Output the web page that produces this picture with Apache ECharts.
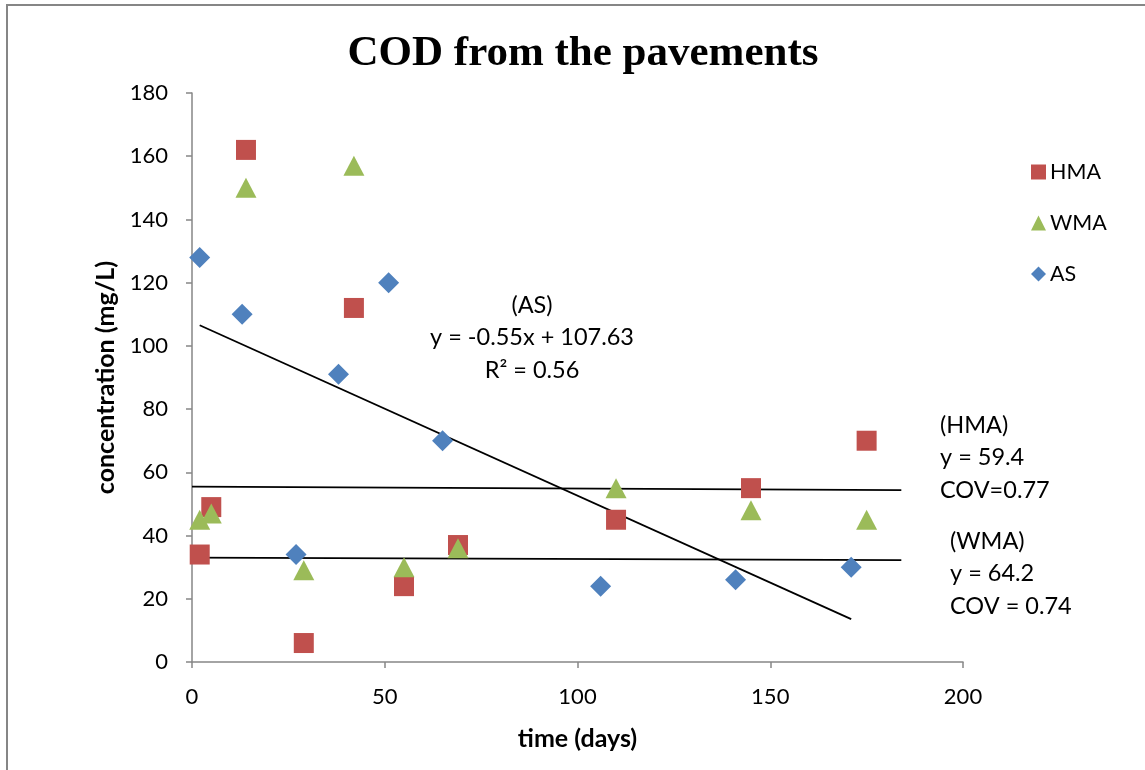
<!DOCTYPE html>
<html>
<head>
<meta charset="utf-8">
<script src="https://cdn.jsdelivr.net/npm/echarts@6/dist/echarts.min.js"></script>
<style>
  html, body { margin: 0; padding: 0; background: #fff; }
  #chart { width: 1145px; height: 770px; }
</style>
</head>
<body>
<div id="chart"></div>
<script>
// Sampling days and COD concentrations (mg/L) per pavement type
const hmaDays = [2, 5, 14, 29, 42, 55, 69, 110, 145, 175];
const hmaCod  = [34, 49, 162, 6, 112, 24, 37, 45, 55, 70];

const wmaDays = [2, 5, 14, 29, 42, 55, 69, 110, 145, 175];
const wmaCod  = [45, 47, 150, 29, 157, 30, 36, 55, 48, 45];

const asDays = [2, 13, 27, 38, 51, 65, 106, 141, 171];
const asCod  = [128, 110, 34, 91, 120, 70, 24, 26, 30];

// Fitted lines
const asSlope = -0.55;
const asIntercept = 107.63;
const asFitRange = [2, 171];
const hmaFitLine = [[0, 55.5], [184, 54.4]];
const wmaFitLine = [[0, 33.0], [184, 32.2]];

const xTicks = [0, 50, 100, 150, 200];
const yTicks = [0, 20, 40, 60, 80, 100, 120, 140, 160, 180];

const colors = { HMA: '#C0504D', WMA: '#9BBB59', AS: '#4F81BD' };
const sansFont = 'Lato, "Open Sans", sans-serif';

const zip = (xs, ys) => xs.map((x, i) => [x, ys[i]]);
const asFitLine = asFitRange.map(x => [x, asSlope * x + asIntercept]);

const chart = echarts.init(document.getElementById('chart'));

const fitSeries = (name, data) => ({
  name: name,
  type: 'line',
  data: data,
  symbol: 'none',
  silent: true,
  z: 1,
  lineStyle: { color: '#000', width: 1.8 }
});

chart.setOption({
  animation: false,
  backgroundColor: '#fff',
  title: {
    text: 'COD from the pavements',
    left: 578,
    top: 27,
    textAlign: 'center',
    textStyle: {
      fontFamily: '"Liberation Serif", "Times New Roman", serif',
      fontWeight: 'bold',
      fontSize: 43,
      color: '#000'
    }
  },
  grid: { left: 192, top: 93, right: 182, bottom: 108, containLabel: false },
  xAxis: {
    type: 'value',
    min: xTicks[0],
    max: xTicks[xTicks.length - 1],
    interval: 50,
    name: 'time (days)',
    nameLocation: 'middle',
    nameGap: 64,
    nameTextStyle: { fontFamily: sansFont, fontWeight: 'bold', fontSize: 25, color: '#000' },
    axisLine: { show: true, lineStyle: { color: '#868686', width: 1.5 } },
    axisTick: { show: true, length: 6, lineStyle: { color: '#868686', width: 1.5 } },
    axisLabel: { fontFamily: sansFont, fontSize: 22, color: '#000', margin: 24 },
    splitLine: { show: false }
  },
  yAxis: {
    type: 'value',
    min: yTicks[0],
    max: yTicks[yTicks.length - 1],
    interval: 20,
    name: 'concentration (mg/L)',
    nameLocation: 'middle',
    nameGap: 74,
    nameTextStyle: { fontFamily: sansFont, fontWeight: 'bold', fontSize: 25, color: '#000' },
    axisLine: { show: true, lineStyle: { color: '#868686', width: 1.5 } },
    axisTick: { show: true, length: 6, lineStyle: { color: '#868686', width: 1.5 } },
    axisLabel: { fontFamily: sansFont, fontSize: 22, color: '#000', margin: 24 },
    splitLine: { show: false }
  },
  legend: {
    orient: 'vertical',
    left: 1026,
    top: 156,
    itemGap: 29,
    itemWidth: 15,
    itemHeight: 15,
    data: [
      { name: 'HMA', icon: 'rect' },
      { name: 'WMA', icon: 'triangle' },
      { name: 'AS', icon: 'diamond' }
    ],
    textStyle: { fontFamily: sansFont, fontSize: 21.5, color: '#000', padding: [0, 0, 0, -1] }
  },
  series: [
    fitSeries('AS fit', asFitLine),
    fitSeries('HMA fit', hmaFitLine),
    fitSeries('WMA fit', wmaFitLine),
    {
      name: 'HMA', type: 'scatter', data: zip(hmaDays, hmaCod),
      symbol: 'rect', symbolSize: 20, z: 3,
      itemStyle: { color: colors.HMA, opacity: 1 }
    },
    {
      name: 'WMA', type: 'scatter', data: zip(wmaDays, wmaCod),
      symbol: 'triangle', symbolSize: [21, 20], z: 4,
      itemStyle: { color: colors.WMA, opacity: 1 }
    },
    {
      name: 'AS', type: 'scatter', data: zip(asDays, asCod),
      symbol: 'diamond', symbolSize: 21, z: 5,
      itemStyle: { color: colors.AS, opacity: 1 }
    }
  ],
  graphic: [
    {
      type: 'rect', silent: true, z: -1,
      shape: { x: 7, y: 5, width: 1200, height: 800 },
      style: { fill: 'none', stroke: '#868686', lineWidth: 2 }
    },
    {
      type: 'text', z: 10,
      style: {
        text: '(AS)\ny = -0.55x + 107.63\nR² = 0.56',
        x: 532, y: 289, align: 'center', verticalAlign: 'top',
        font: '23.5px ' + sansFont, lineHeight: 32.5, fill: '#000'
      }
    },
    {
      type: 'text', z: 10,
      style: {
        text: '(HMA)\ny = 59.4\nCOV=0.77',
        x: 940, y: 409, align: 'left', verticalAlign: 'top',
        font: '23.5px ' + sansFont, lineHeight: 32.5, fill: '#000'
      }
    },
    {
      type: 'text', z: 10,
      style: {
        text: '(WMA)\ny = 64.2\nCOV = 0.74',
        x: 950, y: 525, align: 'left', verticalAlign: 'top',
        font: '23.5px ' + sansFont, lineHeight: 32.5, fill: '#000'
      }
    }
  ]
});
</script>
</body>
</html>
